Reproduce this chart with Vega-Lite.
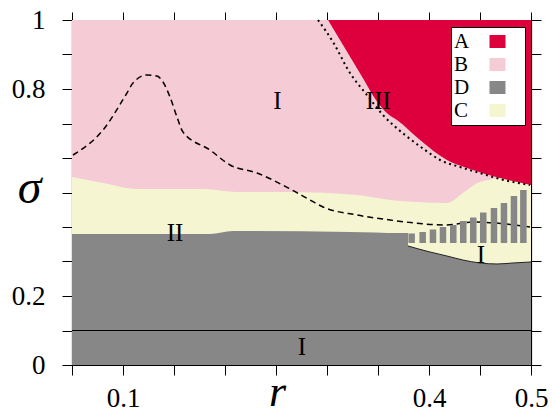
{
  "$schema": "https://vega.github.io/schema/vega-lite/v6.json",
  "width": 459,
  "height": 345,
  "autosize": {"type": "none"},
  "padding": {"left": 72, "top": 20, "right": 25, "bottom": 49},
  "background": "white",
  "config": {"view": {"stroke": null}, "font": "Liberation Serif"},
  "datasets": {
    "pink": [{"x": 0.05, "y": 1, "region": "B"}, {"x": 0.5, "y": 1, "region": "B"}],
    "yellow": [
      {"x": 0.05, "y": 0.5449, "region": "C"}, {"x": 0.0804, "y": 0.5275, "region": "C"},
      {"x": 0.1137, "y": 0.5101, "region": "C"}, {"x": 0.1784, "y": 0.5101, "region": "C"},
      {"x": 0.2118, "y": 0.5014, "region": "C"}, {"x": 0.2637, "y": 0.5014, "region": "C"},
      {"x": 0.3294, "y": 0.4928, "region": "C"}, {"x": 0.3618, "y": 0.4783, "region": "C"},
      {"x": 0.3882, "y": 0.4725, "region": "C"}, {"x": 0.4176, "y": 0.4696, "region": "C"},
      {"x": 0.4333, "y": 0.4986, "region": "C"}, {"x": 0.45, "y": 0.5304, "region": "C"},
      {"x": 0.4765, "y": 0.542, "region": "C"}, {"x": 0.5, "y": 0.5217, "region": "C"}
    ],
    "gray": [
      {"x": 0.05, "y": 0.3797, "region": "D"}, {"x": 0.1853, "y": 0.3797, "region": "D"},
      {"x": 0.2078, "y": 0.3884, "region": "D"}, {"x": 0.3225, "y": 0.3855, "region": "D"},
      {"x": 0.3716, "y": 0.3826, "region": "D"}, {"x": 0.5, "y": 0.3826, "region": "D"}
    ],
    "bubble": [
      {"x": 0.3794, "y": 0.3449, "region": "C"}, {"x": 0.401, "y": 0.3275, "region": "C"},
      {"x": 0.4176, "y": 0.3159, "region": "C"}, {"x": 0.4333, "y": 0.3043, "region": "C"},
      {"x": 0.45, "y": 0.2957, "region": "C"}, {"x": 0.4667, "y": 0.2928, "region": "C"},
      {"x": 0.4824, "y": 0.2957, "region": "C"}, {"x": 0.5, "y": 0.2986, "region": "C"}
    ],
    "bars": [
      {"x": 0.383, "top": 0.3812, "region": "D"}, {"x": 0.3938, "top": 0.3855, "region": "D"},
      {"x": 0.4039, "top": 0.3928, "region": "D"}, {"x": 0.4137, "top": 0.4, "region": "D"},
      {"x": 0.4238, "top": 0.4058, "region": "D"}, {"x": 0.4336, "top": 0.4174, "region": "D"},
      {"x": 0.4434, "top": 0.4275, "region": "D"}, {"x": 0.4532, "top": 0.442, "region": "D"},
      {"x": 0.4637, "top": 0.4551, "region": "D"}, {"x": 0.4735, "top": 0.4696, "region": "D"},
      {"x": 0.4833, "top": 0.4899, "region": "D"}, {"x": 0.4925, "top": 0.5072, "region": "D"}
    ],
    "red": [
      {"x": 0.301, "y": 1, "region": "A"}, {"x": 0.3157, "y": 0.9275, "region": "A"},
      {"x": 0.3363, "y": 0.8261, "region": "A"}, {"x": 0.348, "y": 0.7681, "region": "A"},
      {"x": 0.3598, "y": 0.7275, "region": "A"}, {"x": 0.3686, "y": 0.7101, "region": "A"},
      {"x": 0.3912, "y": 0.6522, "region": "A"}, {"x": 0.4176, "y": 0.5942, "region": "A"},
      {"x": 0.4373, "y": 0.571, "region": "A"}, {"x": 0.4696, "y": 0.542, "region": "A"},
      {"x": 0.5, "y": 0.5217, "region": "A"}
    ],
    "dotted": [
      {"x": 0.2912, "y": 1}, {"x": 0.3059, "y": 0.9362}, {"x": 0.3225, "y": 0.8464},
      {"x": 0.3392, "y": 0.7826}, {"x": 0.3549, "y": 0.7246}, {"x": 0.3765, "y": 0.6667},
      {"x": 0.3961, "y": 0.6232}, {"x": 0.4108, "y": 0.5942}, {"x": 0.4304, "y": 0.5739},
      {"x": 0.45, "y": 0.5565}, {"x": 0.4696, "y": 0.5391}, {"x": 0.499, "y": 0.5217}
    ],
    "dashed": [
      {"x": 0.051, "y": 0.6087}, {"x": 0.0804, "y": 0.6812}, {"x": 0.1039, "y": 0.7884},
      {"x": 0.1098, "y": 0.8174}, {"x": 0.1235, "y": 0.8406}, {"x": 0.1333, "y": 0.8377},
      {"x": 0.1392, "y": 0.8203}, {"x": 0.1461, "y": 0.7768}, {"x": 0.1529, "y": 0.7188},
      {"x": 0.1588, "y": 0.6754}, {"x": 0.1853, "y": 0.6232}, {"x": 0.2049, "y": 0.5797},
      {"x": 0.2314, "y": 0.5565}, {"x": 0.2657, "y": 0.5072}, {"x": 0.2833, "y": 0.4783},
      {"x": 0.2961, "y": 0.458}, {"x": 0.3294, "y": 0.4348}, {"x": 0.3618, "y": 0.4203},
      {"x": 0.4176, "y": 0.4058}, {"x": 0.4431, "y": 0.4145}, {"x": 0.499, "y": 0.4}
    ],
    "hline": [{"y": 0.1}],
    "labels": [
      {"x": 0.2515, "y": 0.7652, "label": "I"},
      {"x": 0.3503, "y": 0.7658, "label": "III"},
      {"x": 0.151, "y": 0.384, "label": "II"},
      {"x": 0.451, "y": 0.3197, "label": "I"},
      {"x": 0.2755, "y": 0.0522, "label": "I"}
    ]
  },
  "layer": [
    {
      "data": {"name": "pink"},
      "mark": {"type": "area"},
      "encoding": {
        "x": {
          "field": "x", "type": "quantitative",
          "scale": {"domain": [0.05, 0.5], "nice": false, "zero": false, "padding": 0},
          "axis": {
            "orient": "bottom",
            "values": [0.05, 0.1, 0.15, 0.2, 0.25, 0.3, 0.35, 0.4, 0.45, 0.5],
            "labelExpr": "datum.value == 0.1 || datum.value == 0.4 || datum.value == 0.5 ? format(datum.value, '.1f') : ''",
            "grid": false, "tickSize": 10, "tickColor": "black", "tickWidth": 1,
            "domainColor": "black", "domainWidth": 1.2,
            "labelFont": "Liberation Serif", "labelFontSize": 27, "labelColor": "black",
            "labelPadding": 10, "labelFlush": false, "labelOverlap": false,
            "title": "r", "titleFont": "Liberation Serif", "titleFontStyle": "italic",
            "titleFontWeight": "normal", "titleFontSize": 44, "titleColor": "black",
            "titleX": 205, "titleY": 40, "titleBaseline": "alphabetic", "titleAlign": "center"
          }
        },
        "y": {
          "field": "y", "type": "quantitative",
          "scale": {"domain": [0, 1], "nice": false, "zero": true, "padding": 0},
          "axis": {
            "orient": "left",
            "values": [0, 0.1, 0.2, 0.3, 0.4, 0.5, 0.6, 0.7, 0.8, 0.9, 1],
            "labelExpr": "datum.value == 0 || datum.value == 1 ? format(datum.value, 'd') : (datum.value == 0.2 || datum.value == 0.8 ? format(datum.value, '.1f') : '')",
            "grid": false, "tickSize": 10, "tickColor": "black", "tickWidth": 1,
            "domainColor": "black", "domainWidth": 1.2,
            "labelFont": "Liberation Serif", "labelFontSize": 27, "labelColor": "black",
            "labelPadding": 17, "labelFlush": false, "labelOverlap": false,
            "title": "σ", "titleFont": "Liberation Serif", "titleFontStyle": "italic",
            "titleFontWeight": "normal", "titleFontSize": 48, "titleColor": "black",
            "titleAngle": 0, "titleX": -43, "titleY": 182, "titleBaseline": "alphabetic", "titleAlign": "center"
          }
        },
        "fill": {
          "field": "region", "type": "nominal",
          "scale": {"domain": ["A", "B", "D", "C"], "range": ["#de003c", "#f5cbd6", "#878787", "#f5f5d2"]},
          "legend": {
            "orient": "none", "legendX": 379, "legendY": 7, "title": null, "direction": "vertical",
            "symbolType": "M-1,-0.8H1V0.8H-1Z M2.9,0L2.9,0", "symbolSize": 256, "symbolStrokeWidth": 0,
            "symbolOffset": 32, "labelOffset": -54,
            "labelFont": "Liberation Serif", "labelFontSize": 21, "labelColor": "black",
            "fillColor": "white", "strokeColor": "black", "padding": 4, "rowPadding": 1, "cornerRadius": 0
          }
        }
      }
    },
    {
      "data": {"name": "yellow"},
      "mark": {"type": "area", "interpolate": "monotone"},
      "encoding": {
        "x": {"field": "x", "type": "quantitative", "axis": null},
        "y": {"field": "y", "type": "quantitative", "axis": null},
        "fill": {"field": "region", "type": "nominal"}
      }
    },
    {
      "data": {"name": "gray"},
      "mark": {"type": "area", "interpolate": "monotone"},
      "encoding": {
        "x": {"field": "x", "type": "quantitative", "axis": null},
        "y": {"field": "y", "type": "quantitative", "axis": null},
        "fill": {"field": "region", "type": "nominal"}
      }
    },
    {
      "data": {"name": "bubble"},
      "mark": {"type": "area", "interpolate": "monotone"},
      "encoding": {
        "x": {"field": "x", "type": "quantitative", "axis": null},
        "y": {"field": "y", "type": "quantitative", "axis": null},
        "y2": {"datum": 0.385},
        "fill": {"field": "region", "type": "nominal"}
      }
    },
    {
      "data": {"name": "dashed"},
      "mark": {"type": "line", "interpolate": "monotone", "color": "black", "strokeWidth": 1.5, "strokeDash": [6, 4]},
      "encoding": {
        "x": {"field": "x", "type": "quantitative", "axis": null},
        "y": {"field": "y", "type": "quantitative", "axis": null}
      }
    },
    {
      "data": {"name": "bars"},
      "mark": {"type": "bar", "width": 6.5},
      "encoding": {
        "x": {"field": "x", "type": "quantitative", "axis": null},
        "y": {"field": "top", "type": "quantitative", "axis": null},
        "y2": {"datum": 0.3536},
        "fill": {"field": "region", "type": "nominal"}
      }
    },
    {
      "data": {"name": "bubble"},
      "mark": {"type": "line", "interpolate": "monotone", "color": "#222222", "strokeWidth": 1},
      "encoding": {
        "x": {"field": "x", "type": "quantitative", "axis": null},
        "y": {"field": "y", "type": "quantitative", "axis": null}
      }
    },
    {
      "data": {"name": "red"},
      "mark": {"type": "area", "interpolate": "monotone"},
      "encoding": {
        "x": {"field": "x", "type": "quantitative", "axis": null},
        "y": {"field": "y", "type": "quantitative", "axis": null},
        "y2": {"datum": 1},
        "fill": {"field": "region", "type": "nominal"}
      }
    },
    {
      "data": {"name": "dotted"},
      "mark": {"type": "line", "interpolate": "monotone", "color": "black", "strokeWidth": 2, "strokeDash": [2, 3.5]},
      "encoding": {
        "x": {
          "field": "x", "type": "quantitative",
          "axis": {
            "orient": "top", "values": [0.05, 0.1, 0.15, 0.2, 0.25, 0.3, 0.35, 0.4, 0.45, 0.5],
            "labels": false, "title": null, "grid": false, "tickSize": 8, "tickColor": "black",
            "domainColor": "black", "domainWidth": 1.2
          }
        },
        "y": {
          "field": "y", "type": "quantitative",
          "axis": {
            "orient": "right", "values": [0, 0.1, 0.2, 0.3, 0.4, 0.5, 0.6, 0.7, 0.8, 0.9, 1],
            "labels": false, "title": null, "grid": false, "tickSize": 10, "tickColor": "black",
            "domainColor": "black", "domainWidth": 1.2
          }
        }
      }
    },
    {
      "data": {"name": "hline"},
      "mark": {"type": "rule", "color": "black", "strokeWidth": 1},
      "encoding": {
        "y": {"field": "y", "type": "quantitative", "axis": null}
      }
    },
    {
      "data": {"name": "labels"},
      "mark": {"type": "text", "font": "Liberation Serif", "fontSize": 25, "color": "black", "align": "center", "baseline": "middle"},
      "encoding": {
        "x": {"field": "x", "type": "quantitative", "axis": null},
        "y": {"field": "y", "type": "quantitative", "axis": null},
        "text": {"field": "label"}
      }
    }
  ],
  "resolve": {"axis": {"x": "independent", "y": "independent"}}
}
